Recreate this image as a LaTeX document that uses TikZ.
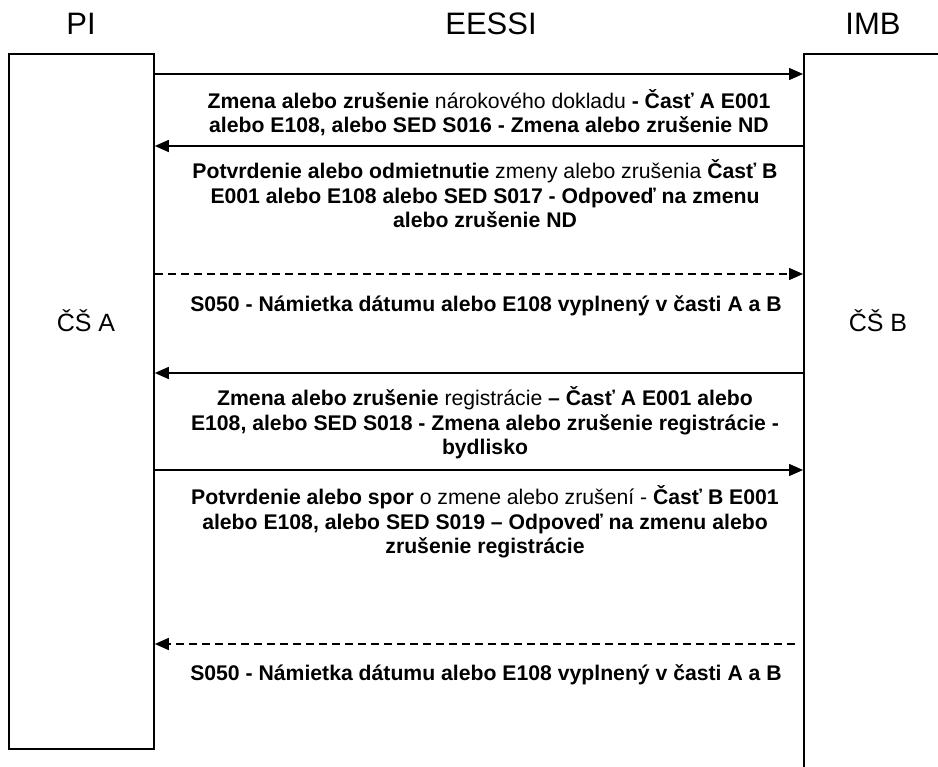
\documentclass[tikz,border=0pt]{standalone}
\usepackage{fontspec}
\setmainfont{Liberation Sans}
\usetikzlibrary{arrows.meta}
\begin{document}
\begin{tikzpicture}[x=1pt,y=-1pt,
  lane/.style={draw, line width=1.8pt, minimum width=145pt, anchor=north west, inner sep=0pt},
  head/.style={font=\fontsize{31}{36}\selectfont},
  side/.style={font=\fontsize{25}{30}\selectfont},
  msg/.style={font=\bfseries\fontsize{21.2}{24.5}\selectfont, align=center, inner sep=0pt},
  flow/.style={line width=1.5pt, -{Triangle[length=14pt,width=12pt]}},
  pending/.style={flow, dash pattern=on 8pt off 5pt}]
\useasboundingbox (0,0) rectangle (938,767);

% column headers
\node[head] (hpi) at (81,24) {PI};
\node[head] (heessi) at (491,24) {EESSI};
\node[head] (himb) at (873,24) {IMB};

% the two lanes
\node[lane, minimum height=695pt] (pi) at (8,53) {};
\node[lane, minimum height=745pt] (imb) at (803,53) {};
\node[side] (csa) at (86,321) {ČŠ A};
\node[side] (csb) at (878,321) {ČŠ B};

% message levels on the lanes
\foreach \n/\y in {m1/74, m2/146, m3/274, m4/373, m5/470, m6/644} {
  \coordinate (\n l) at (pi.east |- 0,\y);
  \coordinate (\n r) at (imb.west |- 0,\y);
}

% messages
\draw[flow] (m1l) -- (m1r);
\draw[flow] (m2r) -- (m2l);
\draw[pending] (m3l) -- (m3r);
\draw[flow] (m4r) -- (m4l);
\draw[flow] (m5l) -- (m5r);
\draw[pending] ([xshift=-8pt]m6r) -- (m6l);

% message labels
\node[msg] (t1) at (489,112.5) {Zmena alebo zrušenie {\mdseries nárokového dokladu} - Časť A E001\\alebo E108, alebo SED S016 - Zmena alebo zrušenie ND};
\node[msg] (t2) at (485,194) {Potvrdenie alebo odmietnutie {\mdseries zmeny alebo zrušenia} Časť B\\E001 alebo E108 alebo SED S017 - Odpoveď na zmenu\\alebo zrušenie ND};
\node[msg] (t3) at (486,306) {S050 - Námietka dátumu alebo E108 vyplnený v časti A a B};
\node[msg] (t4) at (485,423) {Zmena alebo zrušenie {\mdseries registrácie} – Časť A E001 alebo\\E108, alebo SED S018 - Zmena alebo zrušenie registrácie -\\bydlisko};
\node[msg] (t5) at (485,522) {Potvrdenie alebo spor {\mdseries o zmene alebo zrušení -} Časť B E001\\alebo E108, alebo SED S019 – Odpoveď na zmenu alebo\\zrušenie registrácie};
\node[msg] (t6) at (486,675) {S050 - Námietka dátumu alebo E108 vyplnený v časti A a B};
\end{tikzpicture}
\end{document}
